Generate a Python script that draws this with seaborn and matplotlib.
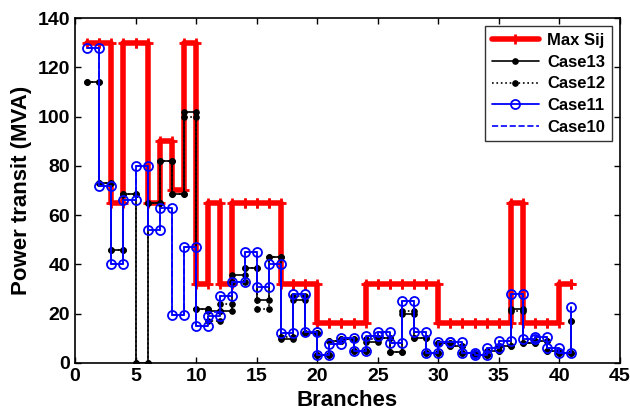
import numpy as np
import pandas as pd
import matplotlib
matplotlib.use("Agg")
import matplotlib.pyplot as plt
import seaborn as sns

branches = list(range(1, 42))
max_sij = [130, 130, 65, 130, 130, 65, 90, 70, 130, 32,
           65, 32, 65, 65, 65, 65, 32, 32, 32, 16,
           16, 16, 16, 32, 32, 32, 32, 32, 32, 16,
           16, 16, 16, 16, 16, 65, 16, 16, 16, 32, 32]
case13 = [114, 73, 46, 68.5, 0, 65, 82, 68.5, 102, 22,
          21, 21, 35.5, 38.5, 25.5, 43, 9.5, 25.5, 12, 3,
          9, 9.5, 5, 8.5, 10, 4.5, 20, 10, 4, 8,
          7, 4, 3, 5, 7, 22, 8, 9, 5, 4, 17]
case12 = [114, 73, 46, 68.5, 0, 65, 82, 68.5, 100, 22,
          17, 24, 33, 38.5, 22, 43, 10.5, 27, 12, 3,
          9, 9.5, 5, 9.5, 10, 4.5, 21, 10, 4, 8,
          7, 4, 3, 5, 7, 21, 8, 9, 5, 4, 17]
case11 = [128, 72, 40, 66, 80, 54, 63, 19.5, 47, 15,
          19, 27, 33, 45, 31, 40, 12, 28, 12.6, 3,
          7.5, 10, 5, 11, 12.5, 8, 25, 12.5, 4, 8.5,
          8.5, 4, 3, 6, 9, 28, 9.5, 10.5, 6, 4, 22.5]
case10 = [128, 72, 40, 66, 80, 54, 63, 19.5, 47, 15,
          20.5, 27, 33, 45, 31, 40, 12, 28, 12.6, 3,
          7.5, 10, 5, 11, 12.5, 8, 25, 12.5, 4, 8.5,
          8.5, 4, 3, 6, 9, 28, 9.5, 10.5, 6, 4, 22.5]


def stairs(x, y):
    x = np.asarray(x, float)
    y = np.asarray(y, float)
    return np.repeat(x, 2)[1:], np.repeat(y, 2)[:-1]


sns.set_style("ticks")
plt.rcParams['font.family'] = ['Liberation Sans Narrow', 'Liberation Sans', 'DejaVu Sans']
plt.rcParams['font.weight'] = 'bold'
for k in ['text.color', 'axes.labelcolor', 'xtick.color', 'ytick.color', 'axes.edgecolor']:
    plt.rcParams[k] = 'black'

fig = plt.figure(figsize=(6.3, 4.2), dpi=100)
ax = fig.add_axes([0.119, 0.136, 0.865, 0.821])

RED = "#ff0000"
BLUE = "#0000ff"
series = [
    ("Max Sij", max_sij, dict(color=RED, linestyle="-", linewidth=4, marker="+", markersize=7,
                              markeredgewidth=2, markeredgecolor=RED)),
    ("Case13", case13, dict(color="black", linestyle="-", linewidth=1.2, marker=".", markersize=8,
                            markeredgecolor="black")),
    ("Case12", case12, dict(color="black", linestyle=":", linewidth=1.2, marker=".", markersize=8,
                            markeredgecolor="black")),
    ("Case11", case11, dict(color=BLUE, linestyle="-", linewidth=1.3, marker="o", markersize=6.5,
                            markerfacecolor="none", markeredgewidth=1.3, markeredgecolor=BLUE)),
    ("Case10", case10, dict(color=BLUE, linestyle="--", linewidth=1.2)),
]

for name, vals, kw in series:
    xs, ys = stairs(branches, vals)
    df = pd.DataFrame({"x": xs, "y": ys})
    sns.lineplot(data=df, x="x", y="y", ax=ax, sort=False, estimator=None, label=name, **kw)

ax.set_xlim(0, 45)
ax.set_ylim(0, 140)
ax.set_xticks(range(0, 46, 5))
ax.set_yticks(range(0, 141, 20))
ax.tick_params(direction="in", top=True, right=True, length=4, width=1, labelsize=14,
               colors="black")
for lab in ax.get_xticklabels() + ax.get_yticklabels():
    lab.set_fontweight("bold")
for s in ax.spines.values():
    s.set_visible(True)
    s.set_linewidth(1.2)
    s.set_color("black")
ax.set_xlabel("Branches", fontsize=16, fontweight="bold", color="black")
ax.set_ylabel("Power transit (MVA)", fontsize=16, fontweight="bold", color="black")

leg = ax.legend(loc="upper right", frameon=True, fancybox=False, edgecolor="black",
                handlelength=2.8, handletextpad=0.5, borderpad=0.4, labelspacing=0.4,
                prop=dict(weight="bold", size=12))
leg.get_frame().set_linewidth(1.0)
for t in leg.get_texts():
    t.set_color("black")

fig.savefig("out.png", dpi=100)
